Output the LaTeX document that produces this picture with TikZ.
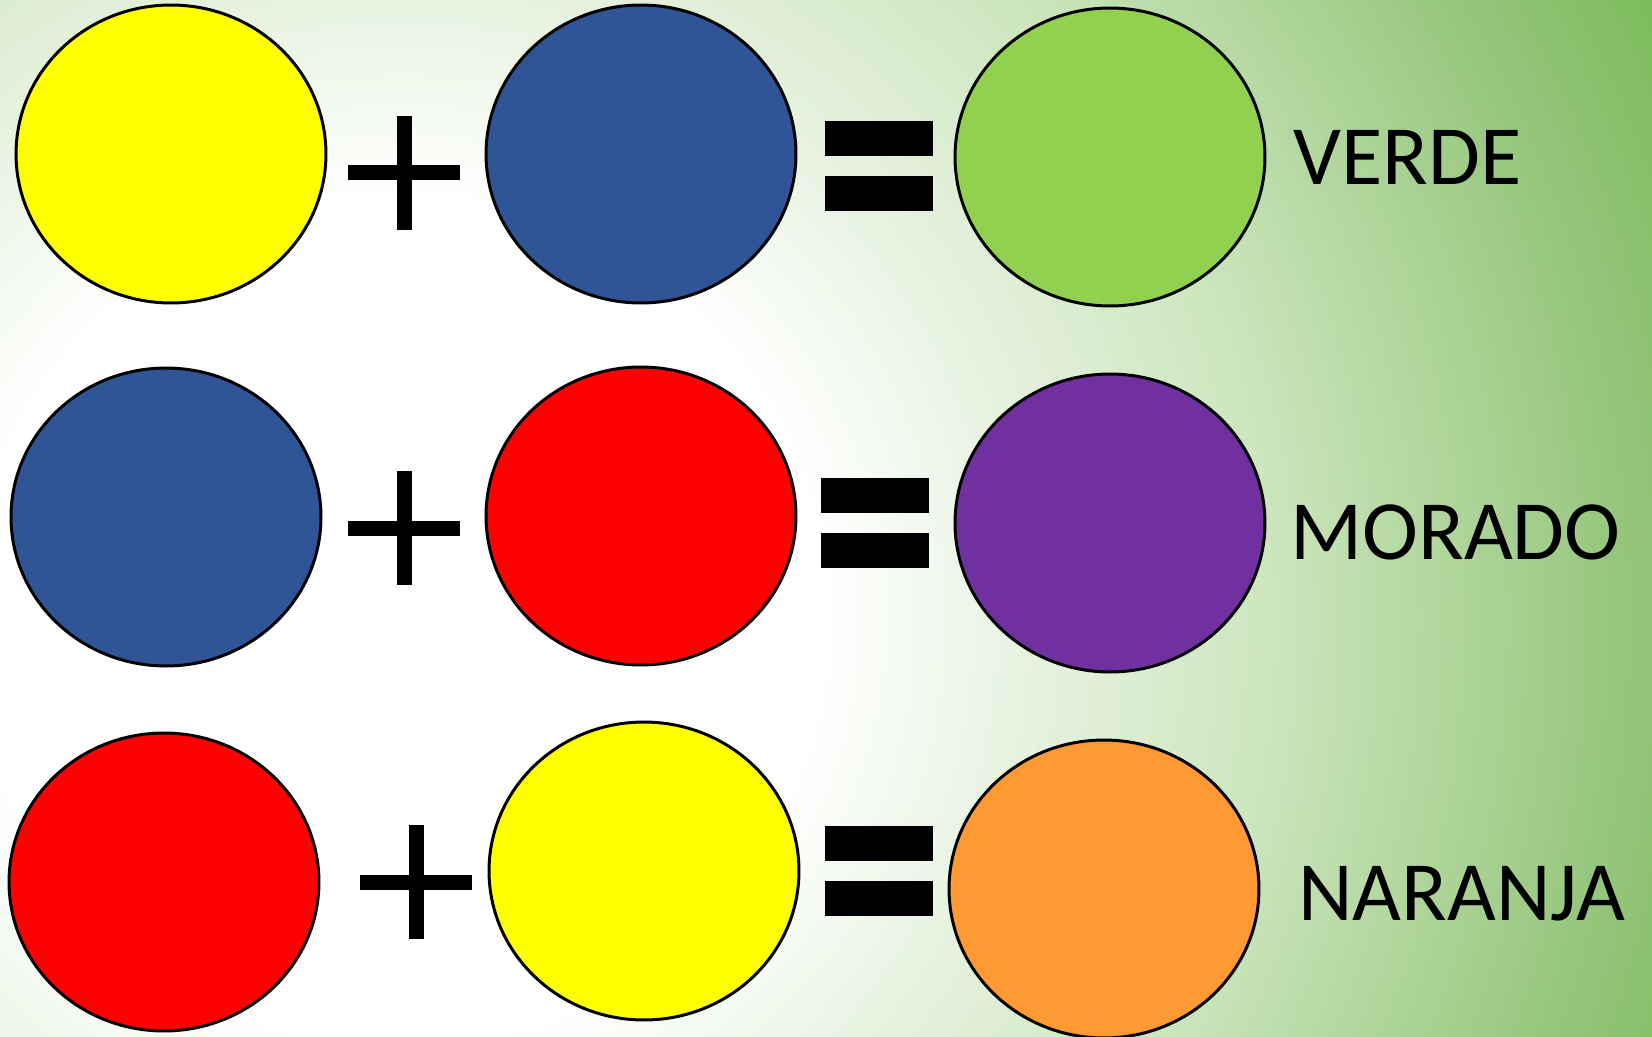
\documentclass[tikz,border=0pt]{standalone}
\usepackage{fontspec}
\setmainfont{Carlito}
\usetikzlibrary{shapes.geometric}
\definecolor{cyel}{HTML}{FFFF00}
\definecolor{cblue}{HTML}{2F5597}
\definecolor{cred}{HTML}{FF0000}
\definecolor{cgreen}{HTML}{92D050}
\definecolor{cpurple}{HTML}{7030A0}
\definecolor{corange}{HTML}{FF9933}
\definecolor{bgA}{HTML}{EAF4E4}
\definecolor{bgB}{HTML}{CCE6BE}
\definecolor{bgC}{HTML}{94C57A}
\definecolor{bgD}{HTML}{7DBB5C}
\pgfdeclareradialshading{bgshade}{\pgfpoint{0bp}{0bp}}{color(0bp)=(white); color(7.5bp)=(white); color(10.7bp)=(bgA); color(15.5bp)=(bgB); color(22bp)=(bgC); color(25bp)=(bgD); color(50bp)=(bgD)}
\begin{document}
\begin{tikzpicture}[x=0.02cm,y=-0.02cm,
  blob/.style={ellipse, draw=black, line width=1.7pt, minimum width=6.2cm, minimum height=5.96cm, inner sep=0pt},
  word/.style={font=\fontsize{48}{48}\selectfont, anchor=base west, inner sep=0pt, text=black},
  plussym/.pic={\fill[black] (-56,-7.5) rectangle (56,7.5); \fill[black] (-7.5,-57) rectangle (7.5,57);},
  eqsym/.pic={\fill[black] (-54,-45) rectangle (54,-10); \fill[black] (-54,10) rectangle (54,45);}]
\useasboundingbox (0,0) rectangle (1652,1037);
\begin{scope}
  \clip (0,0) rectangle (1652,1037);
  \shade[shading=bgshade] (400,620) circle (1400);
\end{scope}
% row 1
\node[blob, fill=cyel] (a1) at (171,154) {};
\pic at (404,173) {plussym};
\node[blob, fill=cblue] (b1) at (641,154) {};
\pic at (879,166) {eqsym};
\node[blob, fill=cgreen] (c1) at (1110,157) {};
\node[word] (t1) at (1293,185) {VERDE};
% row 2
\node[blob, fill=cblue] (a2) at (166,517) {};
\pic at (404,528) {plussym};
\node[blob, fill=cred] (b2) at (641,516) {};
\pic at (875,523) {eqsym};
\node[blob, fill=cpurple] (c2) at (1110,523) {};
\node[word] (t2) at (1290,559) {MORADO};
% row 3
\node[blob, fill=cred] (a3) at (164,882) {};
\pic at (416,882) {plussym};
\node[blob, fill=cyel] (b3) at (644,871) {};
\pic at (879,871) {eqsym};
\node[blob, fill=corange] (c3) at (1104,889) {};
\node[word] (t3) at (1298,920) {NARANJA};
\end{tikzpicture}
\end{document}
